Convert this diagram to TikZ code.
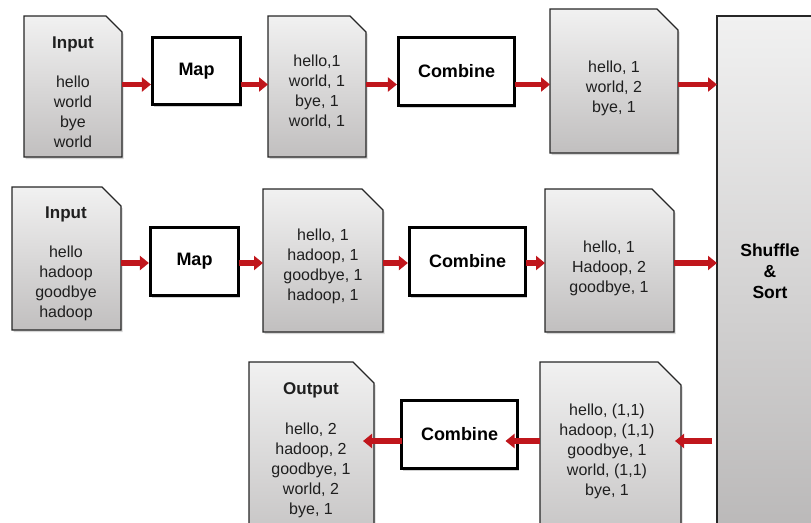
\documentclass[tikz,border=0pt]{standalone}
\usepackage{fontspec}
\setmainfont{Liberation Sans}
\usetikzlibrary{arrows.meta}

\definecolor{flowred}{HTML}{C0161C}
\definecolor{doctop}{HTML}{F1F1F1}
\definecolor{docbot}{HTML}{C1BFBF}
\definecolor{edgegray}{HTML}{262626}

\tikzset{
  docbody/.style={rectangle, inner sep=0pt, outer sep=0pt},
  docline/.style={draw=edgegray, line width=1.3pt, top color=doctop, bottom color=docbot, line join=miter},
  softshadow/.style={fill=black, opacity=0.16, draw=none},
  doctext/.style={align=center, font=\fontsize{16}{20}\selectfont, text=black!88, inner sep=0pt},
  proc/.style={draw=black, line width=3.2pt, fill=white, inner sep=0pt, outer sep=0pt,
    font=\bfseries\fontsize{18}{20}\selectfont,
    preaction={fill=black, opacity=0.18, transform canvas={xshift=1.5pt, yshift=-2pt}}},
  flow/.style={draw=flowred, line width=5.5pt, -{Triangle[width=14pt, length=9pt]}},
}

% outline of a document with a cut top-right corner, drawn round an existing node
\newcommand\docoutline[2]{%
  \fill[softshadow, transform canvas={xshift=1.5pt, yshift=-2pt}]
    (#1.south west) -- (#1.north west) -- ([xshift=-#2pt]#1.north east)
    -- ([yshift=-#2pt]#1.north east) -- (#1.south east) -- cycle;
  \draw[docline]
    (#1.south west) -- (#1.north west) -- ([xshift=-#2pt]#1.north east)
    -- ([yshift=-#2pt]#1.north east) -- (#1.south east) -- cycle;
}
\newcommand\ttl[1]{{\bfseries\fontsize{17}{20}\selectfont #1}}

\begin{document}
\begin{tikzpicture}[x=1pt, y=-1pt]
\useasboundingbox (0,0) rectangle (811,522);
\clip (0,0) rectangle (811,522);

% document bodies
\node[docbody, minimum width=98pt,  minimum height=141pt] (in1) at (73,86.5) {};
\node[docbody, minimum width=98pt,  minimum height=141pt] (d12) at (317,86.5) {};
\node[docbody, minimum width=128pt, minimum height=144pt] (d13) at (614,81) {};
\node[docbody, minimum width=109pt, minimum height=143pt] (in2) at (66.5,258.5) {};
\node[docbody, minimum width=120pt, minimum height=143pt] (d22) at (323,260.5) {};
\node[docbody, minimum width=129pt, minimum height=143pt] (d23) at (609.5,260.5) {};
\node[docbody, minimum width=125pt, minimum height=198pt] (out) at (311.5,461) {};
\node[docbody, minimum width=141pt, minimum height=198pt] (d33) at (610.5,461) {};

\docoutline{in1}{16}
\docoutline{d12}{16}
\docoutline{d13}{21}
\docoutline{in2}{19}
\docoutline{d22}{21}
\docoutline{d23}{22}
\docoutline{out}{21}
\docoutline{d33}{23}

% shuffle stage
\node[rectangle, draw=edgegray, line width=1.2pt, top color=doctop, bottom color=docbot!95!black,
      minimum width=143pt, minimum height=544pt, inner sep=0pt, outer sep=0pt]
      (shuffle) at (788.5,288) {};
\node[align=center, inner sep=0pt, font=\bfseries\fontsize{17.5}{21}\selectfont] (shufflet) at (770,271)
  {Shuffle\\\&\\Sort};

% processing steps
\node[proc, minimum width=88pt,  minimum height=67pt] (map1)  at (196.5,71)    {Map};
\node[proc, minimum width=116pt, minimum height=68pt] (comb1) at (456.5,71.5)  {Combine};
\node[proc, minimum width=88pt,  minimum height=68pt] (map2)  at (194.5,261.5) {Map};
\node[proc, minimum width=116pt, minimum height=68pt] (comb2) at (467.5,261.5) {Combine};
\node[proc, minimum width=116pt, minimum height=68pt] (comb3) at (459.5,434.5) {Combine};

% document contents
\node[doctext] (in1t) at (73,92.5)  {\ttl{Input}\\[19pt]hello\\world\\bye\\world};
\node[doctext] (d12t) at (317,92)   {hello,1\\world, 1\\bye, 1\\world, 1};
\node[doctext] (d13t) at (614,88)   {hello, 1\\world, 2\\bye, 1};
\node[doctext] (in2t) at (66,264)   {\ttl{Input}\\[19pt]hello\\hadoop\\goodbye\\hadoop};
\node[doctext] (d22t) at (323,266.5){hello, 1\\hadoop, 1\\goodbye, 1\\hadoop, 1};
\node[doctext] (d23t) at (609,268)  {hello, 1\\Hadoop, 2\\goodbye, 1};
\node[doctext] (outt) at (311,450)  {\ttl{Output}\\[20pt]hello, 2\\hadoop, 2\\goodbye, 1\\world, 2\\bye, 1};
\node[doctext] (d33t) at (607,451)  {hello, (1,1)\\hadoop, (1,1)\\goodbye, 1\\world, (1,1)\\bye, 1};

% flow levels
\coordinate (r1) at (0,84.5);
\coordinate (r2) at (0,263);
\coordinate (r3) at (0,441);

% first split
\draw[flow, shorten >=1.6pt] (in1.east |- r1) -- (map1.west |- r1);
\draw[flow] (map1.east |- r1) -- (d12.west |- r1);
\draw[flow, shorten >=1.6pt] (d12.east |- r1) -- (comb1.west |- r1);
\draw[flow] (comb1.east |- r1) -- (d13.west |- r1);
\draw[flow] (d13.east |- r1) -- (shuffle.west |- r1);

% second split
\draw[flow, shorten >=1.6pt] (in2.east |- r2) -- (map2.west |- r2);
\draw[flow] (map2.east |- r2) -- (d22.west |- r2);
\draw[flow, shorten >=1.6pt] (d22.east |- r2) -- (comb2.west |- r2);
\draw[flow] (comb2.east |- r2) -- (d23.west |- r2);
\draw[flow] (d23.east |- r2) -- (shuffle.west |- r2);

% reduce side
\draw[flow, shorten <=5pt, shorten >=-6pt] (shuffle.west |- r3) -- (d33.east |- r3);
\draw[flow, shorten >=-12pt] (d33.west |- r3) -- (comb3.east |- r3);
\draw[flow, shorten >=-11pt] (comb3.west |- r3) -- (out.east |- r3);
\end{tikzpicture}
\end{document}
